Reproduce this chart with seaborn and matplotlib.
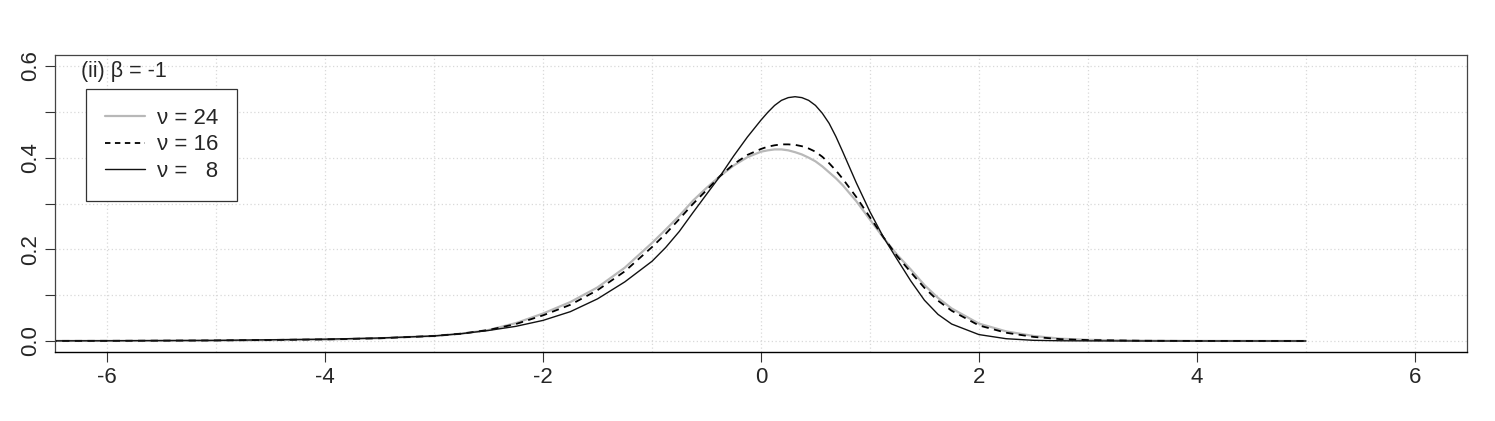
import numpy as np
import pandas as pd
import seaborn as sns
import matplotlib
matplotlib.use("Agg")
import matplotlib.pyplot as plt

# density values, common x grid
x_vals = [-7, -6, -5, -4, -3.5, -3, -2.75, -2.5, -2.25, -2, -1.75, -1.5, -1.25, -1,
          -0.875, -0.75, -0.625, -0.5, -0.375, -0.25, -0.125, 0, 0.0625, 0.125, 0.1875,
          0.25, 0.3125, 0.375, 0.4375, 0.5, 0.5625, 0.625, 0.6875, 0.75, 0.875, 1,
          1.125, 1.25, 1.375, 1.5, 1.625, 1.75, 2, 2.25, 2.5, 2.75, 3, 3.5, 4, 5]

dens_nu24 = [0.0001, 0.0003, 0.001, 0.003, 0.006, 0.011, 0.016, 0.024, 0.039, 0.060,
             0.085, 0.117, 0.160, 0.214, 0.243, 0.273, 0.306, 0.334, 0.360, 0.383,
             0.401, 0.413, 0.416, 0.418, 0.418, 0.416, 0.412, 0.407, 0.400, 0.392,
             0.381, 0.368, 0.355, 0.340, 0.305, 0.265, 0.225, 0.188, 0.156, 0.122,
             0.094, 0.071, 0.038, 0.021, 0.011, 0.005, 0.0025, 0.0007, 0.0002, 0.00003]

dens_nu16 = [0.0001, 0.0004, 0.0012, 0.0035, 0.006, 0.011, 0.016, 0.024, 0.037, 0.056,
             0.079, 0.111, 0.152, 0.205, 0.234, 0.266, 0.299, 0.329, 0.360, 0.386,
             0.406, 0.419, 0.424, 0.427, 0.429, 0.429, 0.428, 0.425, 0.420, 0.413,
             0.402, 0.388, 0.372, 0.354, 0.314, 0.270, 0.226, 0.185, 0.150, 0.116,
             0.088, 0.066, 0.034, 0.018, 0.009, 0.004, 0.002, 0.0005, 0.0001, 0.00002]

dens_nu8 = [0.0002, 0.0005, 0.0013, 0.004, 0.0065, 0.011, 0.016, 0.023, 0.032, 0.045,
            0.064, 0.092, 0.129, 0.174, 0.204, 0.239, 0.280, 0.320, 0.360, 0.404,
            0.445, 0.482, 0.499, 0.514, 0.525, 0.531, 0.533, 0.531, 0.525, 0.514,
            0.497, 0.475, 0.446, 0.413, 0.345, 0.282, 0.226, 0.178, 0.131, 0.089,
            0.058, 0.037, 0.014, 0.005, 0.0015, 0.0005, 0.0002, 0.00003, 0.0, 0.0]

legend_labels = ["\u03bd = 24", "\u03bd = 16", "\u03bd =   8"]
panel_title = "(ii) \u03b2 = -1"

x_ticks = [-6, -4, -2, 0, 2, 4, 6]
y_ticks = [0.0, 0.1, 0.2, 0.3, 0.4, 0.5, 0.6]
y_ticklabels = ["0.0", "", "0.2", "", "0.4", "", "0.6"]

sns.set_style("white")
plt.rcParams['font.family'] = ['Liberation Sans', 'DejaVu Sans']

fig = plt.figure(figsize=(14.95, 4.21), dpi=100)
ax = fig.add_axes([55 / 1495, 69 / 421, 1412 / 1495, 297 / 421])

# dotted grid
for gx in range(-6, 7):
    ax.axvline(gx, color="#d9d9d9", lw=0.9, ls=(0, (1, 2)), zorder=0)
for gy in y_ticks:
    ax.axhline(gy, color="#d9d9d9", lw=0.9, ls=(0, (1, 2)), zorder=0)

df = pd.DataFrame({"x": x_vals, "nu24": dens_nu24, "nu16": dens_nu16, "nu8": dens_nu8})

sns.lineplot(data=df, x="x", y="nu24", ax=ax, color="#b8b8b8", lw=1.6,
             label=legend_labels[0], sort=False)
sns.lineplot(data=df, x="x", y="nu16", ax=ax, color="black", lw=1.3,
             label=legend_labels[1], sort=False)
ax.lines[-1].set_dashes((4, 3))
sns.lineplot(data=df, x="x", y="nu8", ax=ax, color="#111111", lw=1.0,
             label=legend_labels[2], sort=False)

ax.set_xlim(-6.48, 6.48)
ax.set_ylim(-0.024, 0.624)
ax.set_xlabel("")
ax.set_ylabel("")

ax.set_xticks(x_ticks)
ax.set_xticklabels([str(t) for t in x_ticks])
ax.set_yticks(y_ticks)
ax.set_yticklabels(y_ticklabels, rotation=90, va="center")
ax.tick_params(axis="both", direction="out", length=7, width=0.8, color="#333333",
               labelsize=16)
ax.tick_params(axis="x", bottom=True, pad=4)
ax.tick_params(axis="y", left=True, pad=3)

for side in ["left", "top", "right"]:
    ax.spines[side].set_color("#444444")
    ax.spines[side].set_linewidth(0.9)
ax.spines["bottom"].set_color("black")
ax.spines["bottom"].set_linewidth(1.0)
ax.spines["bottom"].set_linestyle((0, (1, 1)))

ax.text(0.0184, 0.943, panel_title, transform=ax.transAxes, fontsize=15.5,
        ha="left", va="center")

leg = ax.legend(loc="upper left", bbox_to_anchor=(0.022, 0.886), borderaxespad=0,
                fontsize=16, frameon=True, fancybox=False, framealpha=1,
                edgecolor="#333333", handlelength=1.8, handletextpad=0.55,
                labelspacing=0.25, borderpad=0.85)
leg.get_frame().set_linewidth(0.9)
leg.legend_handles[1].set_dashes((3, 2.5))

fig.savefig("out.png", dpi=100)
